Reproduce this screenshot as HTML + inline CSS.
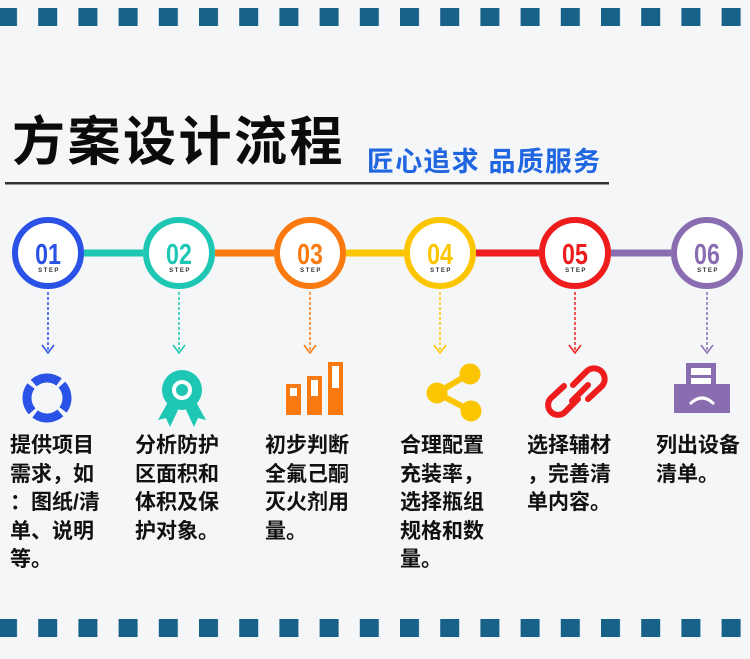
<!DOCTYPE html>
<html><head><meta charset="utf-8"><style>
body{margin:0;width:750px;height:659px;overflow:hidden;background:#f4f6f8;font-family:"Liberation Sans","Noto Sans CJK SC",sans-serif}
.t{position:absolute;font-weight:bold;font-size:21px;line-height:28.5px;color:#111;white-space:nowrap}
</style></head><body>
<svg width="750" height="659" style="position:absolute;left:0;top:0" xmlns="http://www.w3.org/2000/svg">
<defs>
<pattern id="sq" x="-2" y="0" width="40.2" height="659" patternUnits="userSpaceOnUse"><rect x="0" y="0" width="19" height="659" fill="#186289"/></pattern>
</defs>
<rect x="0" y="8" width="750" height="18" fill="url(#sq)"/>
<rect x="0" y="619" width="750" height="18" fill="url(#sq)"/>
<text x="12" y="160" font-size="53" font-weight="bold" fill="#0b0b0b" font-family="Liberation Sans,Noto Sans CJK SC,sans-serif" letter-spacing="2.5">方案设计流程</text>
<text x="367" y="171" font-size="27" font-weight="bold" fill="#1f66e0" font-family="Liberation Sans,Noto Sans CJK SC,sans-serif" letter-spacing="1.2">匠心追求 品质服务</text>
<rect x="5" y="182" width="604" height="2.5" fill="#333"/>
<g stroke-width="7">
<line x1="84" y1="253" x2="143" y2="253" stroke="#1ec7b4"/>
<line x1="215" y1="253" x2="274" y2="253" stroke="#fb7a10"/>
<line x1="346" y1="253" x2="404" y2="253" stroke="#fbc600"/>
<line x1="476" y1="253" x2="539" y2="253" stroke="#ee1c1c"/>
<line x1="611" y1="253" x2="671" y2="253" stroke="#8a6db0"/>
</g>
<g font-family="Liberation Sans,sans-serif" font-weight="bold" text-anchor="middle">
<g fill="#fff" stroke-width="6">
<circle cx="48" cy="253" r="33" stroke="#2a52e6"/>
<circle cx="179" cy="253" r="33" stroke="#1ec7b4"/>
<circle cx="310" cy="253" r="33" stroke="#fb7a10"/>
<circle cx="440" cy="253" r="33" stroke="#fbc600"/>
<circle cx="575" cy="253" r="33" stroke="#ee1c1c"/>
<circle cx="707" cy="253" r="33" stroke="#8a6db0"/>
</g>
<g font-size="29" transform="scale(0.8,1)">
<text x="60" y="264" fill="#2a52e6">01</text>
<text x="223.7" y="264" fill="#1ec7b4">02</text>
<text x="387.5" y="264" fill="#fb7a10">03</text>
<text x="550" y="264" fill="#fbc600">04</text>
<text x="718.7" y="264" fill="#ee1c1c">05</text>
<text x="883.7" y="264" fill="#8a6db0">06</text>
</g>
<g font-size="6" fill="#333" letter-spacing="1.5">
<text x="49" y="272">STEP</text><text x="180" y="272">STEP</text><text x="311" y="272">STEP</text>
<text x="441" y="272">STEP</text><text x="576" y="272">STEP</text><text x="708" y="272">STEP</text>
</g>
</g>
<g fill="none" stroke-width="1.5">
<g stroke="#2a52e6"><line x1="48" y1="292" x2="48" y2="352" stroke-dasharray="3,2"/><path d="M42 345 L48 353 L54 345"/></g>
<g stroke="#1ec7b4"><line x1="179" y1="292" x2="179" y2="352" stroke-dasharray="3,2"/><path d="M173 345 L179 353 L185 345"/></g>
<g stroke="#fb7a10"><line x1="310" y1="292" x2="310" y2="352" stroke-dasharray="3,2"/><path d="M304 345 L310 353 L316 345"/></g>
<g stroke="#fbc600"><line x1="440" y1="292" x2="440" y2="352" stroke-dasharray="3,2"/><path d="M434 345 L440 353 L446 345"/></g>
<g stroke="#ee1c1c"><line x1="575" y1="292" x2="575" y2="352" stroke-dasharray="3,2"/><path d="M569 345 L575 353 L581 345"/></g>
<g stroke="#8a6db0"><line x1="707" y1="292" x2="707" y2="352" stroke-dasharray="3,2"/><path d="M701 345 L707 353 L713 345"/></g>
</g>
<circle cx="47" cy="398" r="20" fill="none" stroke="#2a52e6" stroke-width="9" stroke-dasharray="27.4,4" transform="rotate(-42 47 398)"/>
<g fill="#1ec7b4">
<circle cx="182" cy="390" r="20"/>
<path d="M168 402 L158 420 L166 418 L170 427 L178 410Z M196 402 L206 420 L198 418 L194 427 L186 410Z"/>
<circle cx="182" cy="390" r="10" fill="#fff"/><circle cx="182" cy="390" r="6"/>
</g>
<g fill="#fb7a10">
<rect x="286" y="384" width="15" height="31"/><rect x="307" y="376" width="15" height="39"/><rect x="328" y="362" width="15" height="53"/>
<rect x="290" y="388" width="7" height="8" fill="#fff"/><rect x="311" y="380" width="7" height="16" fill="#fff"/><rect x="332" y="366" width="7" height="22" fill="#fff"/>
</g>
<g fill="#fbc600" stroke="#fbc600">
<line x1="437" y1="393" x2="469" y2="374" stroke-width="6"/><line x1="437" y1="393" x2="469" y2="410" stroke-width="6"/>
<circle cx="437" cy="393" r="10"/><circle cx="470" cy="374" r="10"/><circle cx="471" cy="411" r="10"/>
</g>
<g fill="none" stroke="#ee1c1c" stroke-width="6" stroke-linecap="round">
<path d="M573 385 L586 372 a8 8 0 0 1 16 14 L588 399"/>
<path d="M578 399 L565 412 a8 8 0 0 1 -14 -14 L564 386"/>
<line x1="572" y1="401" x2="588" y2="385"/>
</g>
<g fill="#8a6db0">
<rect x="686" y="363" width="30" height="26"/>
<rect x="691" y="368" width="20" height="7" fill="#fff"/><rect x="691" y="378" width="20" height="6" fill="#fff"/>
<rect x="674" y="384" width="56" height="29"/>
<path d="M690 404 q12 -12 24 0" fill="none" stroke="#fff" stroke-width="3"/>
</g>
</svg>
<div class="t" style="left:10px;top:432px">提供项目<br>需求，如<br>：图纸/清<br>单、说明<br>等。</div>
<div class="t" style="left:135px;top:432px">分析防护<br>区面积和<br>体积及保<br>护对象。</div>
<div class="t" style="left:265px;top:432px">初步判断<br>全氟己酮<br>灭火剂用<br>量。</div>
<div class="t" style="left:400px;top:432px">合理配置<br>充装率，<br>选择瓶组<br>规格和数<br>量。</div>
<div class="t" style="left:527px;top:432px">选择辅材<br>，完善清<br>单内容。</div>
<div class="t" style="left:656px;top:432px">列出设备<br>清单。</div>
</body></html>
